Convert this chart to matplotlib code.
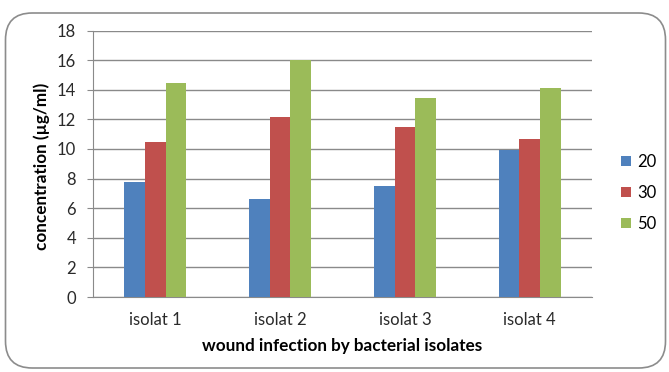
import matplotlib
matplotlib.use("Agg")
import matplotlib.pyplot as plt
from matplotlib.patches import FancyBboxPatch
import numpy as np

categories = ["isolat 1", "isolat 2", "isolat 3", "isolat 4"]
series_names = ["20", "30", "50"]
values_20 = [7.8, 6.65, 7.5, 9.9]
values_30 = [10.5, 12.15, 11.45, 10.65]
values_50 = [14.45, 16.0, 13.45, 14.1]
colors = ["#4F81BD", "#C0504D", "#9BBB59"]
y_ticks = [0, 2, 4, 6, 8, 10, 12, 14, 16, 18]

plt.rcParams["font.family"] = ["Lato", "DejaVu Sans"]

W, H = 669, 372
fig = plt.figure(figsize=(W / 100, H / 100), dpi=100)

# rounded chart-area frame
frame = FancyBboxPatch((5.5 / W, 4 / H), 660 / W, 355 / H,
                       boxstyle="round,pad=0,rounding_size=0.04",
                       transform=fig.transFigure, facecolor="none",
                       edgecolor="#8c8c8c", linewidth=1.2, zorder=-1,
                       mutation_aspect=W / H)
fig.patches.append(frame)

left, right, top, bottom = 93, 592, 30.5, 297
ax = fig.add_axes([left / W, 1 - bottom / H, (right - left) / W, (bottom - top) / H])
ax.set_facecolor("none")

x = np.arange(len(categories))
bw = 0.166
for i, (vals, name) in enumerate(zip([values_20, values_30, values_50], series_names)):
    ax.bar(x + (i - 1) * bw, vals, width=bw, color=colors[i], label=name, zorder=3)

ax.set_xlim(-0.5, len(categories) - 0.5)
ax.set_ylim(0, 18)
ax.set_yticks(y_ticks)
ax.set_xticks(x)
ax.set_xticklabels(categories)
ax.grid(axis="y", color="#8a8a8a", linewidth=1.0, zorder=0)
for s in ["top", "right"]:
    ax.spines[s].set_visible(False)
ax.spines["left"].set_color("#8a8a8a")
ax.spines["bottom"].set_color("#8a8a8a")
ax.tick_params(axis="y", length=4.3, color="#8a8a8a", labelsize=12, labelcolor="#2a2a2a", pad=8)
ax.tick_params(axis="x", length=0, labelsize=12, labelcolor="#2a2a2a", pad=11)

ax.set_ylabel("concentration (µg/ml)", fontsize=12.3, fontweight="bold")
ax.yaxis.set_label_coords(41.7 / W, 1 - 166 / H, transform=fig.transFigure)
ax.yaxis.label.set_verticalalignment("center")
ax.set_xlabel("wound infection by bacterial isolates", fontsize=12.3, fontweight="bold")
ax.xaxis.set_label_coords(342 / W, 1 - 346 / H, transform=fig.transFigure)
ax.xaxis.label.set_verticalalignment("center")

ax.legend(loc="center left", bbox_to_anchor=(621 / W, 1 - 193 / H), bbox_transform=fig.transFigure,
          frameon=False, fontsize=12, handlelength=0.6, handleheight=0.6,
          handletextpad=0.35, labelspacing=0.9, borderaxespad=0, borderpad=0)

fig.savefig("out.png", dpi=100)
